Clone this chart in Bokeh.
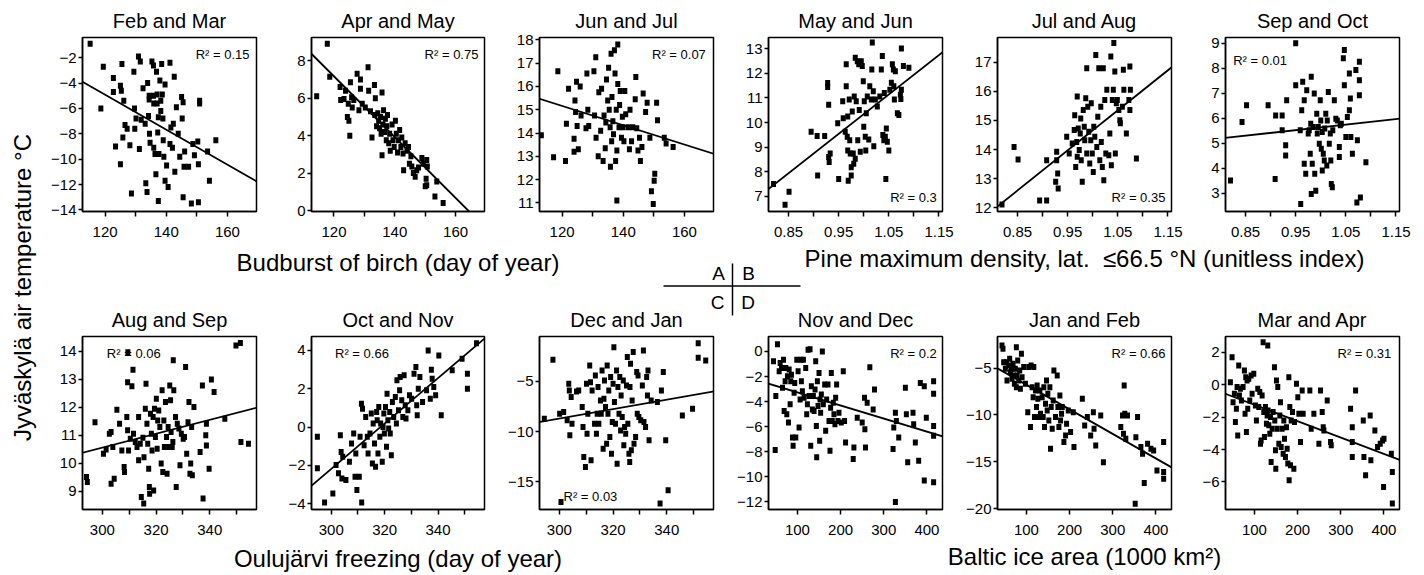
from bokeh.plotting import figure
from bokeh.models import Range1d, FixedTicker, CustomJSTickFormatter, Slope
from bokeh.layouts import row, column
from bokeh.embed import file_html
from bokeh.resources import INLINE
from bokeh.core.properties import value

FONT = "Liberation Sans"

# ------------------------------------------------------------------ data
titles = ["Feb and Mar", "Apr and May", "Jun and Jul", "May and Jun", "Jul and Aug", "Sep and Oct",
          "Aug and Sep", "Oct and Nov", "Dec and Jan", "Nov and Dec", "Jan and Feb", "Mar and Apr"]
r2_labels = ["0.15", "0.75", "0.07", "0.3", "0.35", "0.01", "0.06", "0.66", "0.03", "0.2", "0.66", "0.31"]
slopes = [-0.138, -0.1623, -0.0414, 15.97, 13.77, 2.22, 0.0248, 0.1187, 0.047, -0.0104, -0.02623, -0.0101]
intercepts = [11.64, 26.64, 20.13, -5.63, 0.89, 3.41, 3.11, -37.8, -22.79, -2.23, -4.16, -0.23]

x_limits = [(112.6, 169.5)] * 3 + [(0.81, 1.157)] * 3 + [(292.6, 357.4)] * 3 + [(33, 436)] * 3
y_limits = [(-14.13, -0.4), (-0.05, 9.24), (10.63, 18.1), (6.39, 13.45), (11.87, 17.85), (2.26, 9.23),
            (8.34, 14.52), (-4.31, 4.73), (-17.74, -0.53), (-12.6, 1.19), (-20.1, -1.62), (-7.7, 2.97)]

birch_ticks, birch_minor = [120, 140, 160], [130, 150]
pine_ticks, pine_minor = [0.85, 0.95, 1.05, 1.15], [0.9, 1.0, 1.1]
freeze_ticks, freeze_minor = [300, 320, 340], [310, 330, 350]
ice_ticks, ice_minor = [100, 200, 300, 400], []

y_ticks = [[-14, -12, -10, -8, -6, -4, -2], [0, 2, 4, 6, 8], [11, 12, 13, 14, 15, 16, 17, 18],
           [7, 8, 9, 10, 11, 12, 13], [12, 13, 14, 15, 16, 17], [3, 4, 5, 6, 7, 8, 9],
           [9, 10, 11, 12, 13, 14], [-4, -2, 0, 2, 4], [-15, -10, -5],
           [-12, -10, -8, -6, -4, -2, 0], [-20, -15, -10, -5], [-6, -4, -2, 0, 2]]

axis_titles = ["Budburst of birch (day of year)",
               "Pine maximum density, lat.\u00a0 \u226466.5 \u00b0N (unitless index)",
               "Oulujärvi freezing (day of year)",
               "Baltic ice area (1000 km\u00b2)"]
y_title = "Jyväskylä air temperature \u00b0C"
quadrants = ["A", "B", "C", "D"]

feb_mar = [(115.1,-0.9),(119.4,-2.7),(118.6,-6.0),(122.7,-3.6),(122.7,-4.7),(123.4,-9.0),(125.0,-10.4),
           (125.0,-4.2),(125.3,-4.6),(125.5,-2.5),(126.1,-5.4),(126.5,-7.3),(125.8,-8.3),(127.2,-7.6),
           (128.1,-8.9),(128.6,-12.7),(129.4,-3.1),(129.6,-6.0),(129.7,-7.6),(130.1,-6.8),(130.9,-1.9),
           (131.5,-2.3),(131.2,-9.2),(131.8,-6.9),(132.4,-4.4),(133.1,-7.2),(133.3,-11.9),(133.7,-12.6),
           (133.9,-4.0),(134.2,-6.6),(134.4,-5.0),(134.4,-5.3),(134.5,-8.0),(134.7,-8.7),(135.3,-2.3),
           (135.8,-2.6),(135.8,-5.0),(135.9,-5.6),(135.9,-9.1),(136.3,-9.6),(136.6,-11.2),(136.8,-3.1),
           (137.0,-4.9),(137.0,-5.6),(137.2,-7.9),(137.4,-13.3),(137.4,-6.7),(137.6,-9.6),(137.9,-3.8),
           (138.2,-5.4),(138.2,-6.2),(138.5,-2.5),(138.7,-4.9),(138.9,-6.8),(139.0,-8.5),(139.2,-9.8),
           (139.6,-4.1),(139.6,-11.7),(140.1,-10.5),(140.6,-12.2),(141.2,-2.4),(141.2,-8.8),(141.5,-7.5),
           (142.0,-9.1),(142.3,-7.2),(142.6,-3.5),(142.8,-11.0),(143.3,-5.9),(143.9,-8.0),(144.4,-9.8),
           (145.0,-5.1),(145.2,-6.8),(145.5,-5.5),(145.5,-13.0),(145.8,-10.6),(146.0,-9.4),(147.3,-10.6),
           (148.2,-13.5),(148.7,-8.8),(149.2,-9.7),(150.3,-8.6),(150.5,-10.4),(150.9,-5.4),(150.9,-5.6),
           (150.5,-13.4),(153.5,-9.4),(154.1,-11.7),(156.2,-8.5)]

apr_may = [(114.3,6.1),(117.8,8.9),(118.6,7.15),(122.0,6.6),(122.2,5.9),(123.3,5.96),(123.8,6.4),
           (124.4,5.0),(124.7,5.7),(124.9,4.8),(125.2,4.0),(125.4,6.85),(125.8,6.05),(126.0,5.5),
           (126.5,5.9),(127.6,7.3),(128.2,5.35),(128.7,7.0),(128.7,6.5),(129.3,5.7),(130.3,5.5),
           (131.2,7.65),(131.4,6.4),(132.0,5.3),(132.5,3.9),(133.3,6.7),(133.4,5.1),(133.6,6.0),
           (134.0,4.5),(134.4,5.2),(134.7,4.8),(135.0,4.4),(135.3,5.0),(135.5,4.1),(135.8,2.95),
           (135.8,6.3),(136.1,4.6),(136.3,5.35),(136.6,4.2),(136.9,4.9),(137.2,3.75),(137.4,4.5),
           (137.6,5.1),(138.0,3.6),(138.3,4.1),(138.5,3.2),(139.1,4.6),(139.4,3.75),(139.8,3.4),
           (140.2,4.8),(140.5,4.1),(140.9,3.1),(141.2,3.75),(141.6,4.3),(142.0,3.4),(142.3,3.9),
           (142.7,3.05),(142.9,2.15),(143.4,3.6),(144.0,3.2),(144.5,3.4),(144.8,2.5),(145.3,2.9),
           (145.6,2.35),(146.1,2.0),(146.7,1.8),(147.2,2.15),(147.8,2.3),(148.9,2.8),(149.4,2.5),
           (150.0,1.3),(150.3,1.7),(150.5,2.7),(150.7,2.35),(150.5,1.35),(153.2,0.75),(153.8,1.55),
           (155.9,0.4)]

jun_jul = [(113.2,13.9),(118.6,16.65),(117.2,12.96),(121.1,12.8),(121.4,14.4),(122.1,15.9),(123.9,13.75),
           (123.9,13.2),(124.2,15.4),(124.4,14.9),(124.7,16.2),(124.9,14.3),(125.3,13.3),(125.9,16.0),
           (126.2,14.75),(127.8,14.2),(128.1,16.55),(128.4,15.0),(128.7,14.3),(130.4,16.65),(130.6,14.75),
           (131.0,17.25),(131.1,13.8),(131.8,13.0),(132.0,15.75),(132.6,14.1),(132.9,15.9),(133.4,12.8),
           (133.7,14.75),(134.1,13.35),(134.3,14.45),(134.5,16.3),(134.9,15.4),(135.2,16.8),(135.4,15.0),
           (135.7,14.25),(135.8,12.55),(136.0,17.4),(136.2,13.65),(136.3,15.55),(136.6,14.5),(136.8,13.95),
           (137.1,17.55),(137.3,16.55),(137.5,12.8),(137.7,15.0),(137.9,11.1),(137.9,13.25),(138.2,16.1),
           (138.2,17.8),(138.6,14.25),(138.8,15.2),(139.0,15.8),(139.4,13.8),(139.7,14.7),(139.9,14.25),
           (140.2,13.65),(140.5,15.8),(140.8,14.8),(141.6,14.25),(142.0,13.3),(142.2,15.0),(142.7,13.65),
           (143.1,14.25),(143.9,15.45),(144.1,16.4),(144.4,14.2),(144.8,13.25),(145.3,13.8),(145.6,12.8),
           (146.1,13.4),(146.5,15.7),(147.3,14.9),(147.8,15.3),(148.7,13.8),(149.2,11.5),(149.8,10.95),
           (150.1,11.95),(150.3,12.25),(150.9,15.3),(151.2,14.55),(153.4,13.8),(154.0,13.55),(156.3,13.4)]

may_jun = [(0.82,7.51),(0.843,6.66),(0.851,7.19),(0.895,9.63),(0.907,9.45),(0.908,7.85),(0.922,9.45),
           (0.928,11.6),(0.928,11.44),(0.93,10.72),(0.93,8.6),(0.931,8.4),(0.933,8.74),(0.948,9.97),
           (0.95,7.71),(0.958,10.86),(0.959,10.17),(0.963,9.63),(0.965,12.36),(0.965,11.47),(0.967,9.42),
           (0.968,10.24),(0.968,8.87),(0.969,7.64),(0.971,10.93),(0.972,9.28),(0.973,8.74),(0.975,8.19),
           (0.975,7.85),(0.977,10.45),(0.979,8.74),(0.98,8.33),(0.981,11.06),(0.983,12.63),(0.983,8.53),
           (0.985,10.86),(0.987,12.49),(0.988,9.28),(0.99,12.36),(0.991,10.51),(0.993,8.81),(0.995,12.49),
           (0.997,12.29),(0.999,11.67),(1.0,9.83),(1.001,10.86),(1.003,9.42),(1.004,8.87),(1.005,10.38),
           (1.007,11.06),(1.01,9.31),(1.012,11.47),(1.015,10.93),(1.016,12.15),(1.017,13.25),(1.019,11.27),
           (1.02,9.04),(1.023,10.93),(1.027,10.65),(1.032,11.06),(1.035,12.15),(1.037,12.7),(1.038,9.49),
           (1.04,9.28),(1.041,11.2),(1.043,9.42),(1.044,7.71),(1.045,9.76),(1.047,9.22),(1.05,8.87),
           (1.052,11.33),(1.055,11.61),(1.057,12.36),(1.059,12.15),(1.06,11.47),(1.061,10.93),(1.063,12.08),
           (1.067,10.38),(1.07,10.31),(1.073,11.13),(1.074,10.95),(1.075,13.0),(1.075,11.33),(1.079,12.29),
           (1.09,12.22)]

jul_aug = [(0.819,12.11),(0.843,14.09),(0.851,13.66),(0.894,12.25),(0.908,12.25),(0.908,13.63),(0.926,12.89),
           (0.928,13.92),(0.93,13.18),(0.931,12.66),(0.928,13.63),(0.948,14.44),(0.953,13.86),(0.959,14.21),
           (0.963,14.67),(0.964,15.18),(0.966,13.4),(0.968,14.26),(0.969,15.82),(0.969,13.75),(0.971,14.72),
           (0.973,13.98),(0.975,14.55),(0.976,15.07),(0.977,13.63),(0.979,12.89),(0.981,15.36),(0.983,14.78),
           (0.984,14.32),(0.986,15.76),(0.988,16.79),(0.988,13.86),(0.99,15.47),(0.992,14.61),(0.994,13.52),
           (0.996,14.32),(0.997,15.59),(0.999,13.86),(1.001,13.23),(1.002,14.78),(1.004,14.44),(1.006,17.25),
           (1.008,14.09),(1.01,15.13),(1.012,16.79),(1.014,13.63),(1.016,15.47),(1.017,14.26),(1.019,13.4),
           (1.021,16.79),(1.022,12.94),(1.024,15.7),(1.026,13.86),(1.028,16.05),(1.032,13.8),(1.034,14.55),
           (1.036,17.2),(1.037,13.46),(1.039,15.7),(1.041,16.05),(1.042,17.66),(1.044,16.68),(1.045,13.86),
           (1.047,15.59),(1.049,15.7),(1.052,15.36),(1.054,15.01),(1.055,14.9),(1.059,15.47),(1.061,16.74),
           (1.062,16.05),(1.067,14.55),(1.072,15.7),(1.074,16.85),(1.075,16.05),(1.074,15.36),(1.087,13.69)]

sep_oct = [(0.82,3.5),(0.843,5.85),(0.852,6.52),(0.895,6.52),(0.909,3.56),(0.91,6.11),(0.923,6.11),
           (0.923,5.51),(0.932,6.72),(0.93,4.91),(0.93,4.5),(0.95,9.0),(0.95,7.32),(0.959,5.51),(0.96,2.56),
           (0.962,6.32),(0.964,7.46),(0.967,6.72),(0.967,4.17),(0.97,3.77),(0.972,7.12),(0.975,5.38),
           (0.977,5.51),(0.979,4.57),(0.98,5.78),(0.981,2.96),(0.981,7.66),(0.983,4.17),(0.985,5.64),
           (0.987,6.99),(0.988,3.77),(0.99,3.09),(0.992,6.18),(0.993,5.38),(0.995,5.64),(0.997,4.97),
           (0.999,6.72),(1.0,5.91),(1.001,4.77),(1.003,3.9),(1.003,5.44),(1.005,4.57),(1.007,4.3),
           (1.008,5.58),(1.01,6.18),(1.012,4.1),(1.013,5.91),(1.015,7.05),(1.017,4.97),(1.019,5.38),
           (1.02,4.3),(1.021,3.36),(1.023,3.23),(1.024,5.51),(1.027,6.72),(1.03,5.98),(1.033,5.91),
           (1.037,4.84),(1.037,4.44),(1.039,5.71),(1.041,5.78),(1.045,8.4),(1.047,8.73),(1.047,7.32),
           (1.05,5.24),(1.053,6.05),(1.057,6.32),(1.057,7.79),(1.059,6.79),(1.06,5.24),(1.063,4.57),
           (1.07,7.93),(1.072,2.62),(1.073,5.11),(1.077,8.26),(1.077,7.52),(1.077,6.92),(1.079,2.82),
           (1.09,4.23)]

aug_sep = [(294.1,9.5),(294.4,9.32),(297.25,11.46),(300.4,10.33),(301.4,10.48),(302.6,11.05),(303.25,11.11),
           (303.25,9.26),(303.9,10.57),(304.4,9.44),(305.4,11.9),(306.4,11.4),(307.25,10.45),(308.1,9.86),
           (308.25,9.68),(309.1,11.64),(309.4,12.89),(309.4,11.17),(309.5,13.96),(309.75,10.45),(310.4,10.87),
           (311.0,12.74),(311.4,13.33),(311.6,11.05),(312.25,10.75),(312.9,10.57),(313.5,11.64),(313.5,10.1),
           (314.1,10.69),(314.5,8.79),(315.1,10.9),(315.4,8.55),(315.5,10.21),(316.0,11.94),(316.25,12.83),
           (316.6,11.4),(316.9,10.69),(317.25,9.8),(317.5,9.14),(317.6,8.9),(317.9,11.76),(318.25,11.05),
           (318.5,10.45),(318.9,11.64),(319.1,9.02),(319.4,11.94),(319.75,10.93),(320.1,12.3),(320.4,10.51),
           (320.6,11.52),(321.0,11.88),(321.4,11.29),(321.9,9.98),(322.25,12.6),(322.5,9.68),(322.9,11.52),
           (323.1,10.57),(323.5,12.18),(323.9,10.93),(324.1,9.62),(324.5,11.29),(324.75,10.57),(325.1,12.77),
           (325.4,12.24),(325.6,11.11),(326.0,10.57),(326.25,10.75),(326.4,13.67),(326.6,12.6),(327.25,11.64),
           (327.5,9.14),(327.9,11.4),(328.5,11.23),(328.9,9.92),(329.4,11.05),(330.1,10.87),(330.6,10.93),
           (331.0,13.43),(331.4,10.33),(331.9,11.46),(332.25,12.18),(332.6,9.62),(332.9,9.98),(333.25,11.29),
           (333.5,9.56),(334.1,12.0),(336.4,10.39),(337.25,12.77),(337.5,8.73),(338.5,10.99),(338.75,11.4),
           (338.75,10.63),(339.75,9.8),(340.6,12.98),(341.6,12.54),(345.6,11.58),(349.75,14.2),(351.4,14.29),
           (351.6,10.75),(354.4,10.69)]

oct_nov = [(294.8,-0.51),(294.8,-2.16),(297.5,-3.95),(300.6,-3.47),(301.8,-1.99),(302.7,-2.42),(303.4,-0.43),
           (303.7,-1.3),(304.0,-2.69),(304.3,-1.56),(305.5,-2.77),(306.8,-1.82),(307.6,-0.86),(308.4,-0.34),
           (308.9,-2.6),(309.2,-1.38),(309.6,-3.29),(310.5,-2.6),(310.8,-0.51),(311.3,1.22),(311.4,-3.95),
           (311.7,0.96),(312.3,-0.95),(312.9,0.53),(313.5,-0.51),(313.8,-1.38),(314.5,-0.34),(315.0,0.7),
           (315.4,-1.9),(315.7,0.18),(316.2,-0.86),(316.6,-2.08),(317.0,0.79),(317.2,0.35),(317.5,-1.38),
           (317.8,1.05),(318.2,-0.51),(318.5,0.18),(319.1,-1.82),(319.4,0.0),(319.7,0.7),(319.9,-0.34),
           (320.3,1.05),(320.7,-1.03),(320.9,1.74),(321.2,0.35),(321.5,-0.08),(321.9,0.79),(322.1,-0.34),
           (322.5,-1.47),(322.9,1.31),(323.4,0.53),(324.0,1.57),(324.4,0.18),(324.6,2.44),(325.2,0.88),
           (325.6,1.92),(325.8,2.61),(326.4,1.4),(326.8,0.53),(327.3,2.7),(327.7,1.14),(328.0,0.44),
           (328.7,0.88),(329.3,1.66),(330.1,1.48),(331.0,2.78),(331.7,3.13),(332.0,1.14),(332.2,0.61),
           (332.6,2.0),(333.2,2.61),(334.2,1.31),(335.7,1.92),(336.3,4.0),(337.1,1.48),(337.5,2.99),
           (337.8,2.52),(338.4,2.09),(339.1,1.66),(340.3,3.74),(341.2,0.61),(345.3,2.96),(349.0,3.57),
           (351.0,2.78),(351.0,2.0),(354.4,4.38)]

dec_jan = [(294.4,-8.71),(297.6,-2.85),(300.1,-8.21),(300.6,-16.99),(301.6,-8.05),(302.9,-8.87),(303.5,-5.23),
           (303.7,-5.89),(303.9,-10.36),(304.4,-6.56),(304.7,-9.21),(306.4,-5.99),(307.2,-5.89),(308.5,-7.55),
           (308.8,-9.54),(309.1,-12.52),(309.7,-13.51),(310.1,-5.23),(310.3,-10.2),(310.6,-8.21),(311.3,-3.41),
           (311.6,-5.07),(311.8,-12.85),(312.2,-5.89),(313.1,-9.21),(313.4,-4.4),(313.8,-10.2),(314.1,-8.21),
           (314.4,-5.56),(314.7,-9.21),(315.3,-6.89),(315.6,-8.21),(315.9,-3.91),(316.3,-11.69),(316.6,-6.72),
           (316.8,-4.9),(317.2,-7.55),(317.6,-11.19),(317.8,-3.41),(318.1,-8.21),(318.4,-5.89),(318.8,-10.53),
           (319.1,-4.57),(319.4,-12.19),(319.7,-9.04),(320.0,-5.23),(320.3,-1.59),(320.5,-7.05),(320.9,-9.21),
           (321.3,-3.91),(321.5,-13.18),(321.8,-5.56),(322.2,-8.21),(322.5,-4.57),(322.8,-9.87),(323.0,-6.39),
           (323.4,-8.54),(323.8,-4.9),(324.0,-11.36),(324.3,-9.54),(324.7,-10.2),(325.0,-5.4),(325.3,-2.58),
           (325.5,-9.21),(325.9,-12.19),(326.2,-13.01),(326.3,-5.56),(326.5,-3.25),(326.8,-11.85),(327.1,-6.89),
           (327.5,-2.08),(327.8,-11.19),(328.4,-10.53),(328.8,-4.07),(329.0,-8.21),(329.3,-4.4),(329.6,-8.54),
           (330.3,-8.87),(330.9,-5.4),(331.3,-1.92),(331.5,-9.04),(332.1,-9.54),(332.5,-4.57),(332.8,-6.39),
           (333.0,-3.91),(333.4,-10.86),(334.2,-6.89),(336.5,-7.05),(337.5,-17.15),(338.0,-5.89),(338.7,-4.07),
           (339.6,-10.86),(340.5,-15.83),(345.8,-8.38),(349.6,-7.72),(351.7,-1.19),(351.7,-2.65),(354.5,-2.91)]

nov_dec = [(44.6,-0.79),(50.0,-3.56),(48.5,-7.86),(53.8,0.58),(57.7,-1.58),(60.0,-0.92),(63.1,-1.32),
           (65.4,-2.9),(67.7,-0.66),(69.2,-4.75),(71.5,-2.37),(73.1,-1.32),(75.4,-5.01),(76.9,-1.98),
           (79.2,-5.67),(80.8,-1.45),(83.1,-4.22),(84.6,-2.37),(86.2,-1.85),(88.5,-6.86),(90.0,-7.52),
           (92.3,-3.3),(93.8,-2.51),(96.2,-6.86),(98.5,-0.66),(101.5,-1.58),(103.8,-6.07),(106.2,-3.83),
           (107.7,-0.66),(109.2,-2.37),(111.5,-3.17),(113.8,-0.66),(115.4,-3.69),(119.2,-1.32),(121.5,-5.01),
           (123.1,-4.22),(124.6,0.13),(126.9,-3.56),(129.2,0.18),(130.8,-7.52),(132.3,-2.77),(134.6,-4.62),
           (136.9,-3.56),(138.5,-4.75),(140.8,-3.03),(142.3,-0.79),(143.8,-5.94),(144.6,-8.44),(146.2,-2.37),
           (147.7,-4.35),(150.0,-1.72),(151.5,-7.12),(152.3,-3.83),(153.8,-4.88),(155.4,-3.43),(157.7,0.0),
           (160.0,-4.22),(163.1,-2.64),(165.4,-6.33),(167.7,-3.83),(170.8,-2.64),(173.1,-5.54),(175.4,-7.92),
           (176.9,-4.49),(178.5,-1.72),(180.8,-5.54),(183.1,-4.09),(184.6,-5.01),(186.9,-5.8),(188.5,-3.69),
           (190.8,-2.64),(193.8,-5.54),(196.2,-4.88),(201.5,-5.67),(206.2,-1.58),(209.2,-5.54),(211.5,-7.26),
           (229.2,-8.58),(230.8,-7.65),(238.5,-5.28),(250.0,-5.67),(255.4,-3.69),(256.2,-6.2),(257.7,-7.65),
           (261.5,-4.09),(267.7,-1.27),(275.4,-4.62),(278.5,-3.03),(321.5,-7.78),(323.1,-6.07),(326.9,-4.88),
           (326.9,-12.0),(329.2,-5.54),(334.6,-6.86),(350.0,-2.9),(352.3,-5.01),(355.4,-8.84),(367.7,-4.88),
           (369.2,-5.8),(373.1,-7.26),(380.8,-8.71),(384.6,-2.51),(393.8,-2.77),(398.5,-5.28),(393.8,-10.29),
           (415.4,-2.37),(415.4,-3.38),(415.4,-5.94),(415.4,-6.73),(415.4,-10.42)]

jan_feb = [(43.4,-2.58),(45.7,-2.94),(47.3,-4.36),(51.2,-5.07),(53.5,-4.36),(55.0,-6.32),(58.9,-4.72),
           (61.2,-4.0),(62.8,-5.43),(65.1,-5.07),(66.7,-6.14),(69.0,-4.54),(70.5,-5.78),(72.1,-6.67),
           (74.4,-5.07),(76.7,-2.76),(76.7,-7.03),(78.3,-5.78),(79.8,-4.18),(82.2,-6.32),(84.5,-5.25),
           (86.0,-7.21),(88.4,-3.47),(89.9,-5.96),(93.8,-4.89),(97.7,-6.67),(103.1,-9.7),(105.4,-4.89),
           (109.3,-11.3),(110.9,-4.72),(113.2,-7.03),(115.5,-8.1),(117.1,-4.89),(118.6,-10.23),(120.9,-7.38),
           (123.3,-9.16),(124.8,-6.85),(126.4,-8.27),(128.7,-10.23),(131.0,-7.38),(132.6,-9.88),(136.4,-8.1),
           (138.8,-10.23),(140.3,-7.03),(141.9,-11.3),(144.2,-8.81),(146.5,-6.32),(148.1,-9.52),(149.6,-7.74),
           (151.9,-10.59),(154.3,-7.03),(155.8,-13.61),(157.4,-9.16),(159.7,-11.48),(162.0,-8.45),(163.6,-5.25),
           (167.4,-10.23),(171.3,-5.78),(172.9,-9.16),(175.2,-11.3),(177.5,-7.92),(179.1,-10.59),(181.4,-9.88),
           (183.0,-9.16),(186.8,-12.9),(190.7,-12.19),(193.0,-10.94),(196.9,-9.52),(202.3,-11.83),(208.5,-9.7),
           (210.1,-13.43),(229.5,-8.27),(234.9,-11.12),(241.1,-10.23),(248.8,-12.19),(255.0,-9.7),(256.6,-11.48),
           (260.5,-13.26),(272.1,-10.05),(278.3,-15.04),(318.6,-11.3),(322.5,-10.05),(324.8,-12.01),(326.4,-6.85),
           (327.9,-9.88),(330.2,-12.54),(334.1,-10.05),(351.9,-19.48),(353.5,-12.37),(357.4,-10.23),(365.1,-13.43),
           (369.0,-14.15),(372.9,-17.28),(380.6,-13.08),(388.4,-13.61),(394.6,-13.79),(402.3,-15.93),(417.8,-12.9),
           (417.8,-16.1),(417.8,-16.81)]

mar_apr = [(44.3,0.15),(48.2,1.69),(50.5,-1.08),(53.6,-0.56),(55.9,-2.31),(58.2,-1.49),(59.8,-0.15),
           (61.3,-3.13),(63.6,1.18),(65.2,-0.67),(67.5,-0.26),(69.8,-0.97),(73.7,-0.15),(76.8,0.87),
           (78.3,-1.79),(79.9,0.46),(81.4,-2.92),(83.0,0.26),(84.5,-1.49),(86.9,0.36),(89.2,-0.97),
           (92.3,0.56),(94.6,-0.56),(98.5,0.67),(102.3,-1.28),(104.6,-2.21),(107.7,-0.26),(110.1,-1.38),
           (112.4,-0.46),(114.0,-3.64),(115.5,-3.44),(117.8,-0.67),(120.1,2.62),(121.7,-1.69),(123.2,-3.23),
           (125.5,-1.38),(127.8,-2.41),(129.4,-1.9),(130.9,2.41),(131.7,-1.59),(133.3,-2.51),(135.6,-3.03),
           (137.1,-2.0),(138.7,-4.77),(141.0,-2.72),(143.3,-1.69),(146.4,1.08),(147.2,-2.21),(148.7,-4.05),
           (149.5,-5.18),(151.0,0.26),(152.6,-2.72),(154.1,-0.15),(156.5,-3.64),(158.8,-1.9),(160.3,-1.08),
           (161.9,-3.85),(164.2,-2.72),(166.5,-4.26),(168.1,-2.21),(169.6,-3.33),(171.9,-4.46),(174.2,-2.62),
           (175.8,-3.95),(177.3,-4.87),(179.7,0.46),(180.4,-5.9),(182.0,-1.38),(183.5,-4.97),(185.1,-2.21),
           (188.2,-1.69),(191.3,-5.18),(192.8,-2.31),(197.4,0.05),(200.5,-0.77),(202.9,-1.79),(206.7,-3.54),
           (210.6,-0.36),(212.9,-1.79),(228.4,-0.36),(231.5,-2.72),(237.7,-1.79),(249.3,-3.64),(253.1,-0.36),
           (257.0,-1.69),(259.3,-2.62),(260.9,-2.82),(268.6,-0.97),(276.3,-3.54),(277.9,-3.74),(322.7,-1.49),
           (326.6,-2.62),(326.6,-3.54),(326.6,-4.46),(334.3,-0.36),(352.1,-2.21),(353.6,-4.46),(357.5,-5.59),
           (368.1,-1.9),(369.7,-4.67),(379.0,-2.82),(385.2,-3.85),(391.4,-3.64),(396.8,-3.44),(399.1,-6.31),
           (400.1,-3.33),(417.1,-4.26),(419.4,-5.38),(419.4,-7.33)]

series = [feb_mar, apr_may, jun_jul, may_jun, jul_aug, sep_oct,
          aug_sep, oct_nov, dec_jan, nov_dec, jan_feb, mar_apr]
x_tick_sets = [(birch_ticks, birch_minor)] * 3 + [(pine_ticks, pine_minor)] * 3 + \
              [(freeze_ticks, freeze_minor)] * 3 + [(ice_ticks, ice_minor)] * 3

# ------------------------------------------------------------------ layout (pixels)
LEFT_W = 40
COL_W = [230, 228, 229, 228, 229, 232]
COL_L = [42, 41, 41, 41, 42, 41]
FRAME_W = [174, 173, 174, 174, 174, 174]
TOP_H, MID_H, BOT_H = 32, 87, 33
ROW_H = [214, 209]
ROW_T = [5, 3]
ROW_B = [35, 33]
MID_Y = TOP_H + ROW_H[0]
BOT_Y = MID_Y + MID_H + ROW_H[1]
R2_POS = [(0.96, 0.902, "right"), (0.965, 0.902, "right"), (0.956, 0.902, "right"),
          (0.967, 0.082, "right"), (0.965, 0.082, "right"), (0.044, 0.865, "left"),
          (0.14, 0.904, "left"), (0.136, 0.904, "left"), (0.138, 0.073, "left"),
          (0.967, 0.904, "right"), (0.965, 0.904, "right"), (0.953, 0.904, "right")]

MINUS_FMT = "return String(tick).replace('-', '\u2212');"


def make_panel(i):
    r, c = divmod(i, 6)
    w, h = COL_W[c], ROW_H[r]
    left, fw = COL_L[c], FRAME_W[c]
    right = w - left - fw
    p = figure(width=w, height=h, x_range=Range1d(*x_limits[i]), y_range=Range1d(*y_limits[i]),
               output_backend="svg", toolbar_location=None,
               min_border_left=left, min_border_right=right,
               min_border_top=ROW_T[r], min_border_bottom=ROW_B[r])
    p.grid.visible = False
    p.outline_line_color = "black"
    p.outline_line_width = 1.5
    p.outline_line_alpha = 1.0
    p.background_fill_color = "white"
    p.border_fill_color = "white"

    xs = [pt[0] for pt in series[i]]
    ys = [pt[1] for pt in series[i]]
    p.rect(x=xs, y=ys, width=5, height=6, width_units="screen", height_units="screen",
           fill_color="black", line_color=None)
    p.add_layout(Slope(gradient=slopes[i], y_intercept=intercepts[i], line_color="black", line_width=1.8))

    x0, x1 = x_limits[i]
    y0, y1 = y_limits[i]
    fx, fy, al = R2_POS[i]
    p.text(x=[x0 + fx * (x1 - x0)], y=[y0 + fy * (y1 - y0)], text=["R\u00b2 = " + r2_labels[i]],
           text_font=value(FONT), text_font_size="13px", text_align=al, text_baseline="middle",
           text_color="black")

    major, minor = x_tick_sets[i]
    xa = p.xaxis[0]
    xa.ticker = FixedTicker(ticks=major, minor_ticks=minor)
    xa.major_label_standoff = 10
    xa.major_tick_out = 5
    xa.minor_tick_out = 5
    ya = p.yaxis[0]
    ya.ticker = FixedTicker(ticks=y_ticks[i], minor_ticks=[])
    ya.major_label_standoff = 2
    ya.major_tick_out = 4
    ya.minor_tick_out = 0
    for ax in (xa, ya):
        ax.formatter = CustomJSTickFormatter(code=MINUS_FMT)
        ax.major_tick_in = 0
        ax.minor_tick_in = 0
        ax.axis_line_color = "black"
        ax.axis_line_width = 1.5
        ax.major_tick_line_width = 1.5
        ax.minor_tick_line_width = 1.5
        ax.major_label_text_font = FONT
        ax.major_label_text_font_size = "15px"
        ax.major_label_text_color = "black"
    return p


def strip(w, h):
    p = figure(width=w, height=h, x_range=Range1d(0, w), y_range=Range1d(h, 0),
               output_backend="svg", toolbar_location=None, min_border=0,
               x_axis_type=None, y_axis_type=None)
    p.outline_line_color = None
    p.background_fill_color = "white"
    p.border_fill_color = "white"
    return p


def put_text(p, x, y, s, size, angle=0.0):
    # y is the vertical centre of the text (pixels relative to the strip)
    p.text(x=[x], y=[y], text=[s], text_font=value(FONT), text_font_size=size,
           text_align="center", text_baseline="middle", text_color="black", angle=angle)


W_MAIN = sum(COL_W)
frame_centres = []
acc = 0
for c in range(6):
    frame_centres.append(acc + COL_L[c] + FRAME_W[c] / 2)
    acc += COL_W[c]

# top strip: titles of the upper panels
top = strip(W_MAIN, TOP_H)
for c in range(6):
    put_text(top, frame_centres[c], 20, titles[c], "20px")

# middle strip: axis titles, quadrant key, titles of lower panels
mid = strip(W_MAIN, MID_H)
put_text(mid, frame_centres[1], 262 - MID_Y, axis_titles[0], "24px")
put_text(mid, frame_centres[4], 258 - MID_Y, axis_titles[1], "24px")
mid.line(x=[663 - LEFT_W, 800 - LEFT_W], y=[285.5 - MID_Y] * 2, line_color="black", line_width=1.5)
mid.line(x=[732 - LEFT_W] * 2, y=[263 - MID_Y, 315 - MID_Y], line_color="black", line_width=1.5)
put_text(mid, 718 - LEFT_W, 273 - MID_Y, quadrants[0], "19px")
put_text(mid, 748 - LEFT_W, 273 - MID_Y, quadrants[1], "19px")
put_text(mid, 717 - LEFT_W, 301.5 - MID_Y, quadrants[2], "19px")
put_text(mid, 747.5 - LEFT_W, 301.5 - MID_Y, quadrants[3], "19px")
for c in range(6):
    put_text(mid, frame_centres[c], 319 - MID_Y, titles[6 + c], "20px")

# bottom strip: lower axis titles
bot = strip(W_MAIN, BOT_H)
put_text(bot, frame_centres[1], 558 - BOT_Y, axis_titles[2], "24px")
put_text(bot, frame_centres[4], 555.5 - BOT_Y, axis_titles[3], "24px")

# left strip: shared y-axis title
total_h = TOP_H + ROW_H[0] + MID_H + ROW_H[1] + BOT_H
lft = strip(LEFT_W, total_h)
put_text(lft, 22, 287, y_title, "24px", angle=1.5708)

panels = [make_panel(i) for i in range(12)]
right_col = column(top, row(*panels[:6]), mid, row(*panels[6:]), bot)
layout = row(lft, right_col)

open("out.html", "w").write(file_html(layout, INLINE, title="Jyväskylä air temperature"))
